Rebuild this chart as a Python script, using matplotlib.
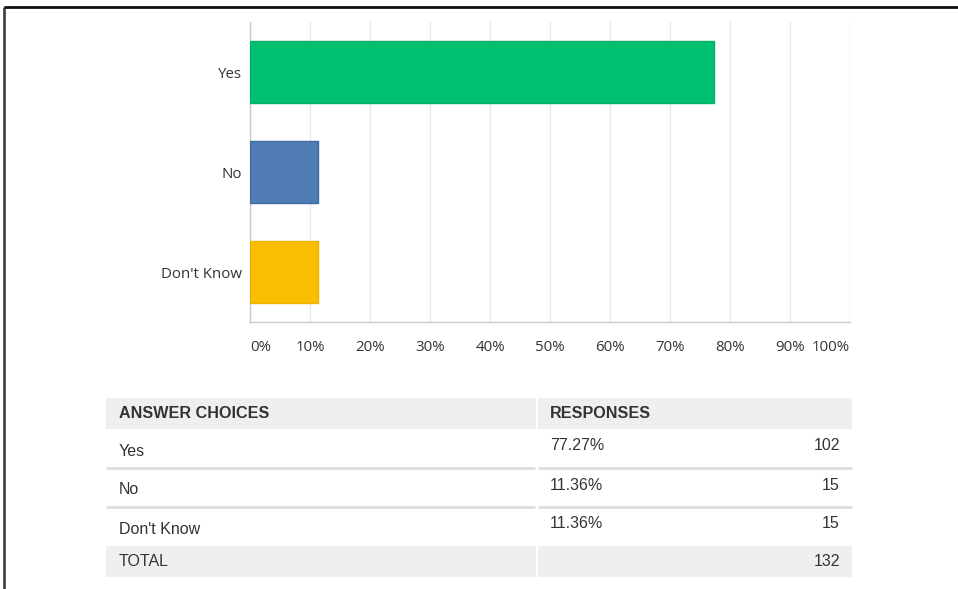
import matplotlib.pyplot as plt
from matplotlib.patches import Rectangle

choices = ["Yes", "No", "Don't Know"]
percents = [77.27, 11.36, 11.36]
counts = [102, 15, 15]
total = 132
bar_colors = ["#00bf6f", "#507cb6", "#f9be00"]
edge_colors = ["#00b068", "#3f6aa3", "#eab300"]
x_ticks = [0, 10, 20, 30, 40, 50, 60, 70, 80, 90, 100]

W, H = 958, 589
fig = plt.figure(figsize=(W / 100, H / 100), dpi=100)
fig.patch.set_facecolor("white")

chart_font = ["Open Sans", "DejaVu Sans"]
table_font = ["Liberation Sans", "DejaVu Sans"]
txt = "#333333"

# bar chart, placed in pixel terms
x0, x1, y0, y1 = 250, 850, 22, 322
ax = fig.add_axes([x0 / W, 1 - y1 / H, (x1 - x0) / W, (y1 - y0) / H])
ypos = list(range(len(choices)))
ax.barh(ypos, percents, height=0.62, color=bar_colors, edgecolor=edge_colors,
        linewidth=1, zorder=3)
ax.set_xlim(0, 100)
ax.set_ylim(len(choices) - 0.5, -0.5)
ax.set_xticks(x_ticks)
ax.set_xticklabels([])
ax.set_yticks(ypos)
ax.set_yticklabels(choices, fontsize=10.8, color=txt, family=chart_font)
ax.tick_params(axis="y", length=0, pad=5.5)
ax.tick_params(axis="x", length=0)
ax.grid(axis="x", color="#e8e8e8", linewidth=1, zorder=0)
for side in ["top", "right"]:
    ax.spines[side].set_visible(False)
for side in ["left", "bottom"]:
    ax.spines[side].set_color("#cccccc")
    ax.spines[side].set_linewidth(1)

# x tick labels: first left-aligned, last right-aligned, rest centred
for i, t in enumerate(x_ticks):
    ha = "left" if i == 0 else ("right" if i == len(x_ticks) - 1 else "center")
    ax.text(t, -25 / 300, f"{t}%", transform=ax.get_xaxis_transform(), ha=ha,
            va="center", fontsize=10.8, color=txt, family=chart_font)

# overlay in pixel coordinates for the table and the frame
ov = fig.add_axes([0, 0, 1, 1], zorder=-1)
ov.set_xlim(0, W)
ov.set_ylim(H, 0)
ov.axis("off")

ov.plot([4, 4], [7, H], color="#444444", lw=2, solid_capstyle="butt")
ov.plot([4, W], [7, 7], color="#111111", lw=2, solid_capstyle="butt")

tl, tr = 106, 852
split = 536
col2 = 538
grey = "#efefef"
line = "#dddddd"

# header
ov.add_patch(Rectangle((tl, 398), split - tl, 31, color=grey, lw=0))
ov.add_patch(Rectangle((col2, 398), tr - col2, 31, color=grey, lw=0))
ov.text(119, 414, "ANSWER CHOICES", fontsize=11.6, fontweight="bold", color=txt,
        family=table_font, va="center")
ov.text(550, 414, "RESPONSES", fontsize=11.6, fontweight="bold", color=txt,
        family=table_font, va="center")

# body rows
row_top = 430
row_h = 39
for i, (c, p, n) in enumerate(zip(choices, percents, counts)):
    top = row_top + i * row_h
    ov.text(119, top + 21, c, fontsize=11.5, color=txt, family=table_font, va="center")
    ov.text(550, top + 16, f"{p:.2f}%", fontsize=11.5, color=txt,
            family=table_font, va="center")
    ov.text(840, top + 16, str(n), fontsize=11.5, color=txt,
            family=table_font, va="center", ha="right")
    if i < len(choices) - 1:
        yl = top + row_h - 1
        ov.plot([tl, split - 1], [yl, yl], color=line, lw=2, solid_capstyle="butt")
        ov.plot([col2, tr], [yl, yl], color=line, lw=2, solid_capstyle="butt")

# total row
tt = row_top + len(choices) * row_h - 1
ov.add_patch(Rectangle((tl, tt), split - tl, 31, color=grey, lw=0))
ov.add_patch(Rectangle((col2, tt), tr - col2, 31, color=grey, lw=0))
ov.text(119, tt + 16, "TOTAL", fontsize=11.5, color=txt, family=table_font, va="center")
ov.text(840, tt + 16, str(total), fontsize=11.5, color=txt, family=table_font,
        va="center", ha="right")

fig.savefig("out.png", dpi=100, facecolor="white")
